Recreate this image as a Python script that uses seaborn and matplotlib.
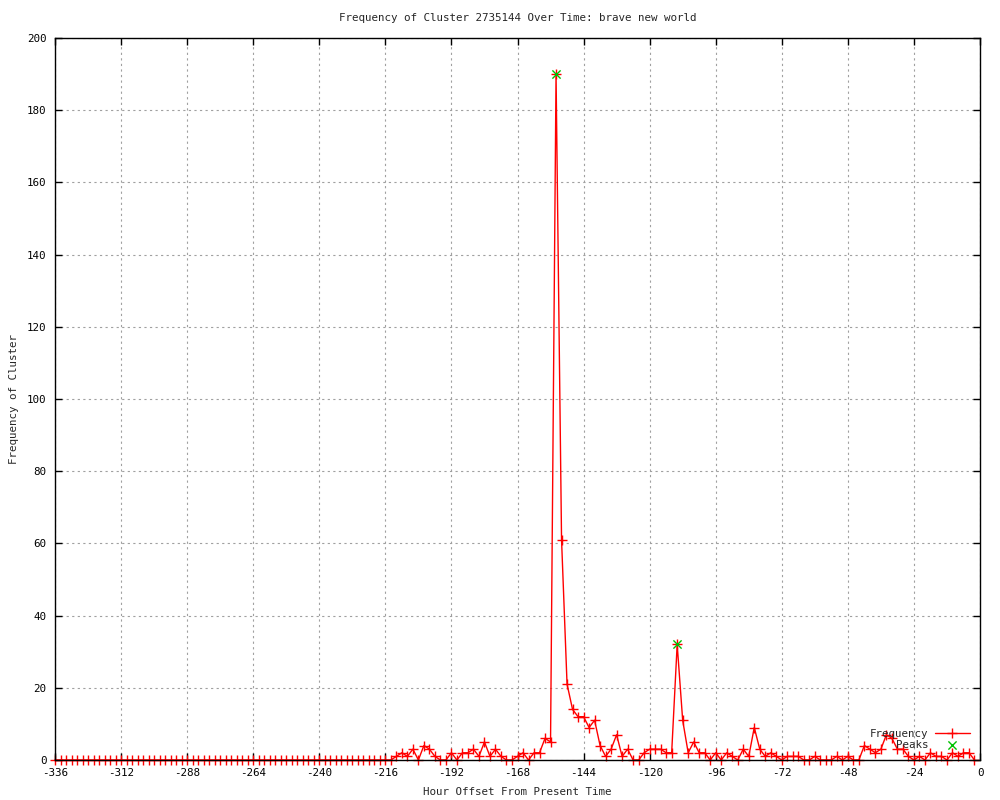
import numpy as np
import pandas as pd
import matplotlib
matplotlib.use("Agg")
import matplotlib.pyplot as plt
import seaborn as sns

# hour offsets (every 2 hours) and cluster counts
hours = list(range(-336, 0, 2))
frequency = [
    0, 0, 0, 0, 0, 0, 0, 0, 0, 0, 0, 0, 0, 0, 0, 0, 0, 0, 0, 0,
    0, 0, 0, 0, 0, 0, 0, 0, 0, 0, 0, 0, 0, 0, 0, 0, 0, 0, 0, 0,
    0, 0, 0, 0, 0, 0, 0, 0, 0, 0, 0, 0, 0, 0, 0, 0, 0, 0, 0,
    0, 0, 0, 1, 2, 1, 3, 0, 4, 3,
    1, 0, 0, 2, 0, 2, 2, 3, 1, 5,
    1, 3, 1, 0, 0, 1, 2, 0, 2, 2,
    6, 5, 190, 61, 21, 14, 12, 12, 9, 11,
    4, 1, 3, 7, 1, 3, 0, 0, 2, 3,
    3, 3, 2, 2, 32, 11, 2, 5, 2, 2,
    0, 2, 0, 2, 1, 0, 3, 1, 9, 3,
    1, 2, 1, 0, 1, 1, 1, 0, 0, 1,
    0, 0, 0, 1, 0, 1, 0, 0, 4, 3,
    2, 3, 7, 6, 3, 3, 1, 0, 1, 0,
    2, 1, 1, 0, 2, 1, 2, 2, 0,
]
peak_hours = [-154, -110]
peak_values = [190, 32]

x_ticks = list(range(-336, 1, 24))
y_ticks = list(range(0, 201, 20))

title = "Frequency of Cluster 2735144 Over Time: brave new world"


def main():
    sns.set_style("ticks")
    plt.rcParams["font.family"] = ["DejaVu Sans Mono"]
    plt.rcParams["axes.unicode_minus"] = False
    fs = 7.8

    df = pd.DataFrame({"Hour": hours, "Frequency": frequency})
    peaks = pd.DataFrame({"Hour": peak_hours, "Frequency": peak_values})

    fig = plt.figure(figsize=(10, 8), dpi=100)
    ax = fig.add_axes([0.055, 0.05, 0.925, 0.9025])

    sns.lineplot(data=df, x="Hour", y="Frequency", color="red", lw=1,
                 marker="+", markersize=7, markeredgewidth=1,
                 markeredgecolor="red", label="Frequency", ax=ax,
                 clip_on=False, zorder=2)
    sns.scatterplot(data=peaks, x="Hour", y="Frequency", color="#00c000",
                    marker="x", s=35, linewidth=1, label="Peaks", ax=ax,
                    zorder=3, clip_on=False)

    ax.set_xlim(-336, 0)
    ax.set_ylim(0, 200)
    ax.set_xticks(x_ticks)
    ax.set_yticks(y_ticks)
    ax.tick_params(direction="in", length=5, width=1, top=True, right=True,
                   labelsize=fs, colors="black", pad=6)
    for s in ax.spines.values():
        s.set_visible(True)
        s.set_linewidth(1)
        s.set_color("black")
        s.set_zorder(4)
    ax.grid(True, color="#a0a0a0", linestyle=(0, (2, 3)), lw=0.8)

    ax.set_title(title, fontsize=fs, pad=12)
    ax.set_xlabel("Hour Offset From Present Time", fontsize=fs, labelpad=6)
    ax.set_ylabel("Frequency of Cluster", fontsize=fs, labelpad=6)

    ax.legend(loc="lower right", markerfirst=False, frameon=False,
              fontsize=fs, handlelength=3.3, labelspacing=0.15,
              handletextpad=0.6)

    fig.savefig("out.png", dpi=100)


if __name__ == "__main__":
    main()
